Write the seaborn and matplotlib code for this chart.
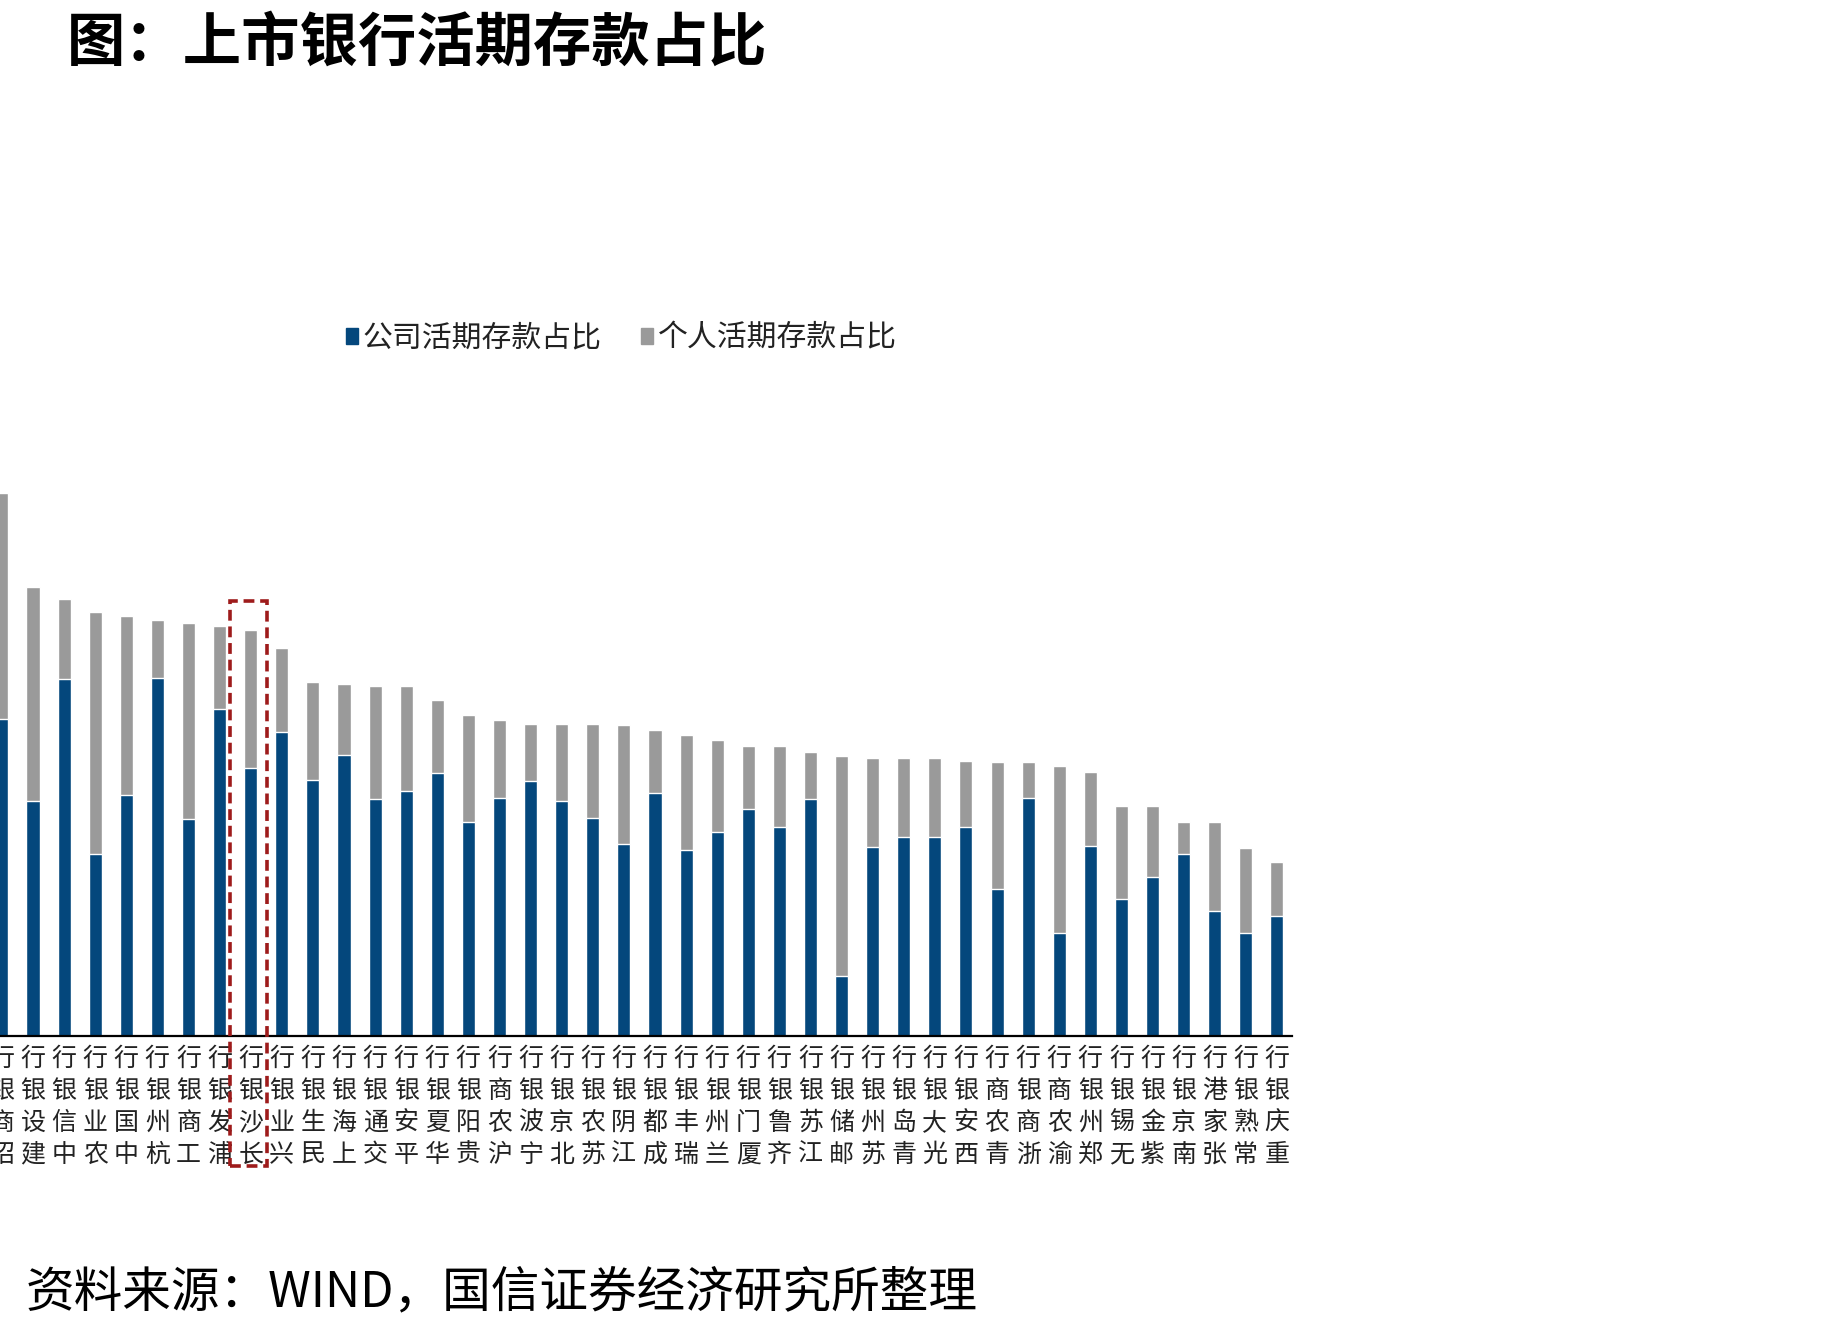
import numpy as np
import matplotlib
matplotlib.use("Agg")
import matplotlib.pyplot as plt
from matplotlib.patches import Rectangle, Patch
import seaborn as sns

banks = ["招商银行", "建设银行", "中信银行", "农业银行", "中国银行", "杭州银行", "工商银行",
         "浦发银行", "长沙银行", "兴业银行", "民生银行", "上海银行", "交通银行", "平安银行",
         "华夏银行", "贵阳银行", "沪农商行", "宁波银行", "北京银行", "苏农银行", "江阴银行",
         "成都银行", "瑞丰银行", "兰州银行", "厦门银行", "齐鲁银行", "江苏银行", "邮储银行",
         "苏州银行", "青岛银行", "光大银行", "西安银行", "青农商行", "浙商银行", "渝农商行",
         "郑州银行", "无锡银行", "紫金银行", "南京银行", "张家港行", "常熟银行", "重庆银行"]

# 公司活期存款占比 (%)
corp = [35.1, 26.0, 39.5, 20.2, 26.7, 39.7, 24.0, 36.2, 29.7, 33.7, 28.4, 31.1, 26.2, 27.1,
        29.1, 23.7, 26.4, 28.2, 26.0, 24.2, 21.3, 26.9, 20.6, 22.6, 25.1, 23.1, 26.2, 6.7,
        20.9, 22.0, 22.0, 23.1, 16.3, 26.4, 11.4, 21.1, 15.2, 17.6, 20.2, 13.9, 11.4, 13.3]
# 个人活期存款占比 (%)
pers = [25.0, 23.7, 8.9, 26.8, 19.8, 6.4, 21.7, 9.2, 15.3, 9.3, 10.8, 7.9, 12.6, 11.7,
        8.1, 11.8, 8.6, 6.4, 8.6, 10.4, 13.1, 7.0, 12.7, 10.2, 7.0, 9.0, 5.3, 24.3,
        9.9, 8.8, 8.8, 7.4, 14.0, 3.9, 18.5, 8.1, 10.3, 7.9, 3.5, 9.8, 9.4, 6.0]

highlight = "长沙银行"
series_names = ["公司活期存款占比", "个人活期存款占比"]
blue = "#04477C"
grey = "#9A9A9A"

sns.set_style("white")
plt.rcParams["font.family"] = ["Noto Sans CJK SC", "DejaVu Sans"]

corp = np.array(corp)
pers = np.array(pers)
total = corp + pers
n = len(banks)

fig = plt.figure(figsize=(18.43, 13.31), dpi=100)
ax = fig.add_axes([-0.0074, 0.2216, 0.7087, 0.4749])

# stacked: total (grey) behind, corporate (blue) in front
sns.barplot(x=banks, y=total, color=grey, saturation=1, width=0.42, ax=ax)
sns.barplot(x=banks, y=corp, color=blue, saturation=1, width=0.42, ax=ax)

ax.set_xlim(-0.5, n - 0.5)
ax.set_ylim(0, 70)
for s in ["left", "top", "right"]:
    ax.spines[s].set_visible(False)
ax.spines["bottom"].set_color("black")
ax.spines["bottom"].set_linewidth(1.6)
ax.set_yticks([])

# labels stacked upright, read from bottom to top
stacked = ["\n".join(reversed(b)) for b in banks]
ax.set_xticks(range(n))
ax.set_xticklabels(stacked, fontsize=18, linespacing=1.3, color="#222222", fontweight="light")
ax.set_xticks(np.arange(-0.5, n, 1), minor=True)
ax.tick_params(axis="x", which="major", length=0, pad=7)
ax.tick_params(axis="x", which="minor", direction="in", length=6, width=1.5, color="black")

# highlight box
i = banks.index(highlight)
ax.add_patch(Rectangle((i - 0.68, -14.4), 1.22, total[i] + 3.2 + 14.4, fill=False,
                       edgecolor="#9E1B1B", linewidth=2.6, linestyle=(0, (3, 1.6)),
                       clip_on=False, zorder=5))

handles = [Patch(color=blue), Patch(color=grey)]
fig.legend(handles, series_names, loc="center", bbox_to_anchor=(0.337, 0.746), ncol=2,
           frameon=False, fontsize=21.5, handlelength=0.42, handleheight=0.42,
           handletextpad=0.15, columnspacing=1.3, labelcolor="#222222")

fig.text(0.0364, 0.967, "图：上市银行活期存款占比", fontsize=42, fontweight="bold",
         ha="left", va="center", color="black")
fig.text(0.0141, 0.0286, "资料来源：WIND，国信证券经济研究所整理", fontsize=35,
         ha="left", va="center", color="black")

fig.savefig("out.png", dpi=100)
